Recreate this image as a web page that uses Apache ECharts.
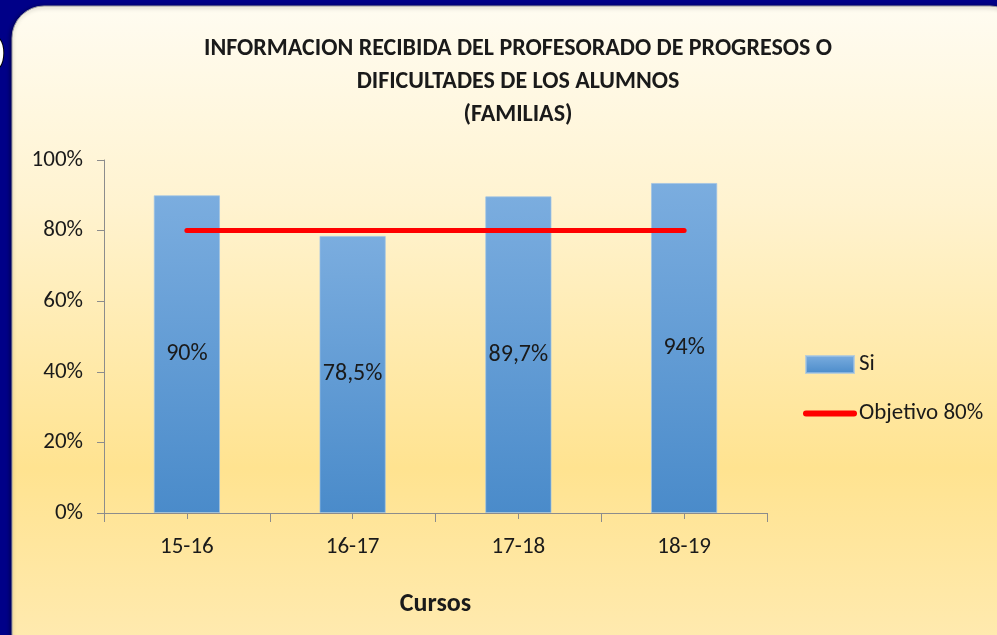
<!DOCTYPE html>
<html>
<head>
<meta charset="utf-8">
<style>
html,body{margin:0;padding:0;background:#000088;}
#chart{width:997px;height:635px;}
</style>
<script src="https://cdn.jsdelivr.net/npm/echarts@6/dist/echarts.min.js"></script>
</head>
<body>
<div id="chart"></div>
<script>
const categories = ['15-16', '16-17', '17-18', '18-19'];
const siValues = [90, 78.5, 89.7, 93.5];
const siLabels = ['90%', '78,5%', '89,7%', '94%'];
const objetivoValues = [80, 80, 80, 80];
const yTicks = [0, 20, 40, 60, 80, 100];
const titleLines = ['INFORMACION RECIBIDA DEL PROFESORADO DE PROGRESOS O', 'DIFICULTADES DE LOS ALUMNOS', '(FAMILIAS)'];

const FONT = 'Carlito, Lato, "Open Sans", sans-serif';
const chart = echarts.init(document.getElementById('chart'));

chart.setOption({
  animation: false,
  textStyle: { fontFamily: FONT },
  graphic: [
    { type: 'rect', z: -100, silent: true, shape: { x: 0, y: 0, width: 997, height: 635 }, style: { fill: '#000088' } },
    { type: 'rect', z: -99, silent: true,
      shape: { x: 12, y: 6, width: 1010, height: 660, r: 32 },
      style: {
        fill: new echarts.graphic.LinearGradient(0, 0, 0, 1, [
          { offset: 0, color: '#FFFCF1' },
          { offset: 0.3, color: '#FFF3D0' },
          { offset: 0.7, color: '#FFE390' },
          { offset: 1, color: '#FFEBB4' }
        ]),
        stroke: '#9a9aa0', lineWidth: 1,
        shadowColor: 'rgba(0,0,0,0.45)', shadowBlur: 4, shadowOffsetX: -1, shadowOffsetY: 1
      } },
    { type: 'text', z: -98, silent: true, x: -23, y: 30,
      style: { text: '0', font: 'bold 54px ' + FONT, fill: '#ffffff', stroke: '#000000', lineWidth: 2,
        textShadowColor: '#000', textShadowOffsetX: 3, textShadowOffsetY: 3, textShadowBlur: 0 } }
  ],
  title: {
    text: titleLines.join('\n'),
    left: 513,
    top: 27,
    textAlign: 'center',
    textStyle: { fontFamily: FONT, fontWeight: 'bold', fontSize: 24, lineHeight: 33, color: '#1a1a1a' }
  },
  legend: {
    orient: 'vertical',
    left: 798,
    top: 348,
    itemWidth: 48,
    itemHeight: 17,
    itemGap: 26,
    textStyle: { fontFamily: FONT, fontSize: 23, color: '#1a1a1a' },
    data: [
      { name: 'Si', icon: 'rect' },
      { name: 'Objetivo 80%', itemStyle: { opacity: 0 }, lineStyle: { width: 6, cap: 'round', color: '#FF0000' } }
    ]
  },
  grid: { left: 104, right: 230, top: 160, bottom: 122 },
  xAxis: [
    {
      type: 'category',
      data: categories,
      boundaryGap: true,
      name: 'Cursos',
      nameLocation: 'middle',
      nameGap: 78,
      nameTextStyle: { fontFamily: FONT, fontWeight: 'bold', fontSize: 26, color: '#1a1a1a' },
      axisLine: { lineStyle: { color: '#8c8c8c', width: 1 } },
      axisTick: { show: true, interval: 0, length: 9, lineStyle: { color: '#8c8c8c' } },
      axisLabel: { fontFamily: FONT, fontSize: 23, color: '#1a1a1a', margin: 23 }
    },
    {
      type: 'category',
      data: categories,
      position: 'bottom',
      boundaryGap: true,
      axisLine: { show: false },
      axisTick: { show: true, alignWithLabel: true, interval: 0, length: 6, lineStyle: { color: '#8c8c8c' } },
      axisLabel: { show: false }
    }
  ],
  yAxis: {
    type: 'value',
    min: 0,
    max: 100,
    interval: 20,
    axisLine: { show: true, lineStyle: { color: '#8c8c8c', width: 1 } },
    axisTick: { show: true, length: 7, lineStyle: { color: '#8c8c8c' } },
    splitLine: { show: false },
    axisLabel: { fontFamily: FONT, fontSize: 23, color: '#1a1a1a', margin: 21, formatter: v => yTicks.includes(v) ? v + '%' : '' }
  },
  series: [
    {
      name: 'Si',
      type: 'bar',
      xAxisIndex: 0,
      data: siValues,
      barWidth: '40%',
      itemStyle: {
        color: new echarts.graphic.LinearGradient(0, 0, 0, 1, [
          { offset: 0, color: '#7BADDF' },
          { offset: 1, color: '#4A8BCA' }
        ]),
        borderColor: 'rgba(160,195,230,0.7)',
        borderWidth: 1
      },
      label: {
        show: true,
        position: 'inside',
        fontFamily: FONT,
        fontSize: 24,
        color: '#1a1a1a',
        formatter: p => siLabels[p.dataIndex]
      }
    },
    {
      name: 'Objetivo 80%',
      type: 'line',
      xAxisIndex: 0,
      data: objetivoValues,
      symbol: 'none',
      lineStyle: { color: '#FF0000', width: 5, cap: 'round' },
      itemStyle: { color: '#FF0000' },
      z: 5
    }
  ]
});
</script>
</body>
</html>
